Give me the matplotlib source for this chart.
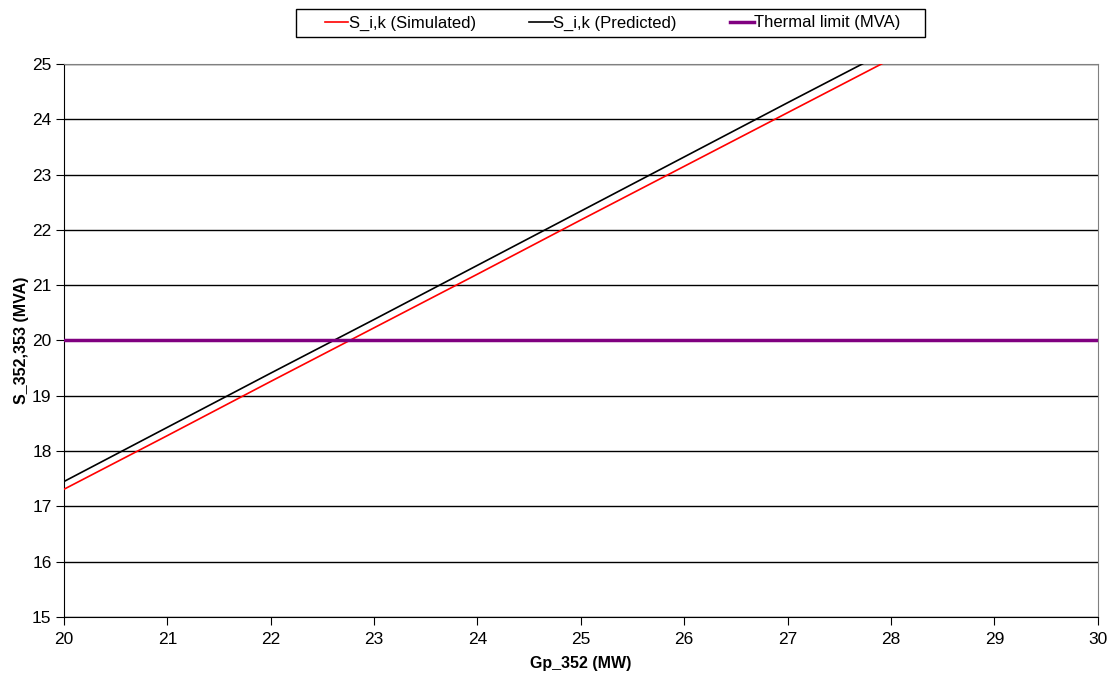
import matplotlib
matplotlib.use("Agg")
import matplotlib.pyplot as plt
from matplotlib.patches import Rectangle

# data
gp_352 = [20, 21, 22, 23, 24, 25, 26, 27, 28, 29, 30]
s_simulated = [17.31, 18.28, 19.26, 20.23, 21.20, 22.18, 23.15, 24.12, 25.09, 26.07, 27.04]
s_predicted = [17.45, 18.43, 19.41, 20.38, 21.36, 22.34, 23.32, 24.30, 25.27, 26.25, 27.23]
thermal_limit = [20] * len(gp_352)

plt.rcParams['font.family'] = ['Liberation Sans', 'DejaVu Sans']

fig = plt.figure(figsize=(11.19, 6.78), dpi=100)
ax = fig.add_axes([0.0572, 0.09, 0.9238, 0.8156])

ax.plot(gp_352, s_simulated, color='#ff0000', linewidth=1.2, label='S_i,k (Simulated)', zorder=3)
ax.plot(gp_352, s_predicted, color='black', linewidth=1.2, label='S_i,k (Predicted)', zorder=3)
ax.plot(gp_352, thermal_limit, color='#800080', linewidth=2.5, label='Thermal limit (MVA)', zorder=4)

ax.set_xlim(20, 30)
ax.set_ylim(15, 25)
ax.set_xticks(range(20, 31))
ax.set_yticks(range(15, 26))
ax.yaxis.grid(True, color='black', linewidth=1)
ax.set_axisbelow(True)

for side in ['top', 'right']:
    ax.spines[side].set_color('#808080')
for side in ['left', 'bottom']:
    ax.spines[side].set_color('black')
ax.tick_params(direction='out', length=6, labelsize=12.5, color='black')
ax.tick_params(axis='x', pad=5)
ax.tick_params(axis='y', pad=3)

ax.set_xlabel('Gp_352 (MW)', fontsize=11.5, fontweight='bold', labelpad=6)
ax.set_ylabel('S_352,353 (MVA)', fontsize=11.5, fontweight='bold', labelpad=2)

# legend box drawn separately so its horizontal padding matches
fig.patches.append(Rectangle((296 / 1119, 1 - 37 / 678), 629 / 1119, 28 / 678,
                             transform=fig.transFigure, fill=False,
                             edgecolor='black', linewidth=1))
leg = fig.legend(loc='center', bbox_to_anchor=(0.5475, 1 - 23 / 678), ncol=3, fontsize=12,
                 frameon=False, handlelength=1.4, handletextpad=0.05,
                 columnspacing=3.2, borderpad=0)

fig.savefig('out.png', dpi=100)
